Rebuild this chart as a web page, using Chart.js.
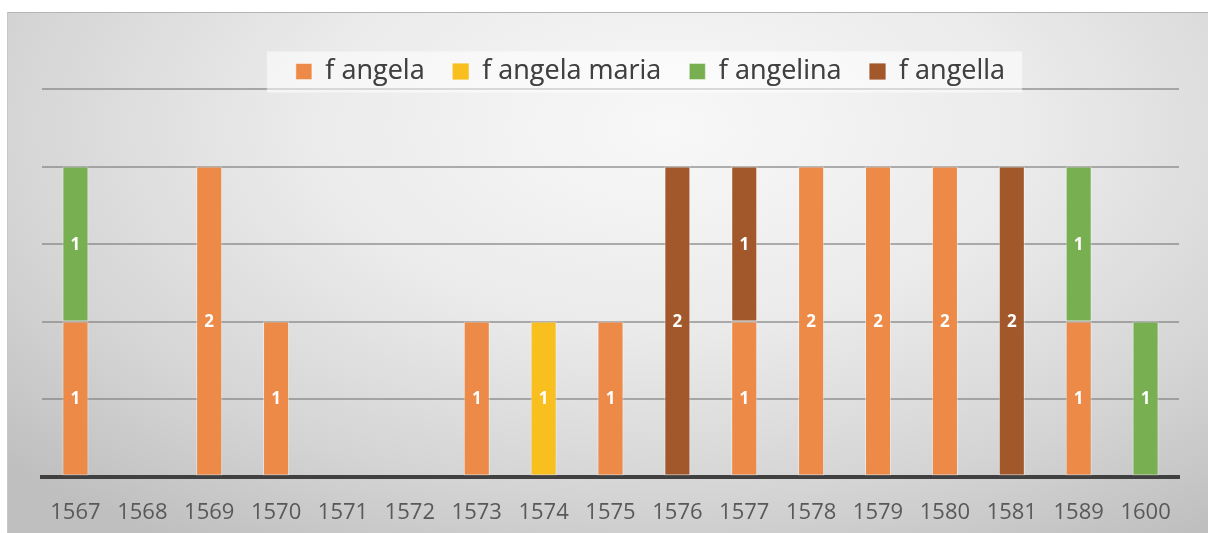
<!DOCTYPE html>
<html>
<head>
<meta charset="utf-8">
<script src="https://cdn.jsdelivr.net/npm/chart.js@4"></script>
<style>
  html, body { margin: 0; padding: 0; background: #fff; overflow: hidden; }
  #box {
    position: absolute; left: 7px; top: 12px; width: 1201px; height: 521px; overflow: hidden;
    border-top: 1px solid #b4b4b4; border-left: 1px solid #c8c8c8;
    background: radial-gradient(ellipse 75% 95% at 55% 22%, #f8f8f8 0%, #ebebeb 40%, #d4d4d4 75%, #bfbfbf 100%);
  }
</style>
</head>
<body>
<div id="box"><canvas id="chart" width="1200" height="544"></canvas></div>
<script>
// categories (years)
var years = ['1567', '1568', '1569', '1570', '1571', '1572', '1573', '1574', '1575',
             '1576', '1577', '1578', '1579', '1580', '1581', '1589', '1600'];

// series
var fAngela      = [1, 0, 2, 1, 0, 0, 1, 0, 1, 0, 1, 2, 2, 2, 0, 1, 0];
var fAngelaMaria = [0, 0, 0, 0, 0, 0, 0, 1, 0, 0, 0, 0, 0, 0, 0, 0, 0];
var fAngelina    = [1, 0, 0, 0, 0, 0, 0, 0, 0, 0, 0, 0, 0, 0, 0, 1, 1];
var fAngella     = [0, 0, 0, 0, 0, 0, 0, 0, 0, 2, 1, 0, 0, 0, 2, 0, 0];

var seriesNames  = ['f angela', 'f angela maria', 'f angelina', 'f angella'];
var seriesColors = ['#ED8A47', '#F9BF1E', '#78AF50', '#A2582A'];

// legend sits a bit right of centre in the original
var legendShift = {
  id: 'legendShift',
  afterLayout: function (chart) {
    var lg = chart.legend;
    if (!lg) return;
    lg.left += 40;
    lg.right += 40;
    lg.legendHitBoxes.forEach(function (hb) { hb.left += 40; });
  }
};

// legend background + redraw legend on top of it
var legendBg = {
  id: 'legendBg',
  beforeDatasetsDraw: function (chart) {
    var lg = chart.legend;
    if (!lg || !lg.legendHitBoxes.length) return;
    var hb = lg.legendHitBoxes;
    var left = hb[0].left - 29;
    var last = hb[hb.length - 1];
    var right = last.left + last.width + 17;
    var mid = hb[0].top + hb[0].height / 2;
    var ctx = chart.ctx;
    ctx.save();
    ctx.fillStyle = 'rgba(255,255,255,0.55)';
    ctx.fillRect(left, mid - 20, right - left, 41);
    ctx.restore();
    lg.draw();
  }
};

// white value labels in the middle of each segment
var barLabels = {
  id: 'barLabels',
  afterDatasetsDraw: function (chart) {
    var ctx = chart.ctx;
    ctx.save();
    ctx.font = 'bold 17px "Open Sans", sans-serif';
    ctx.fillStyle = '#ffffff';
    ctx.textAlign = 'center';
    ctx.textBaseline = 'middle';
    chart.data.datasets.forEach(function (ds, i) {
      var meta = chart.getDatasetMeta(i);
      meta.data.forEach(function (bar, j) {
        var v = ds.data[j];
        if (!v) return;
        ctx.fillText(String(v), bar.x, (bar.y + bar.base) / 2 + 1);
      });
    });
    ctx.restore();
  }
};

var datasets = [fAngela, fAngelaMaria, fAngelina, fAngella].map(function (d, i) {
  return {
    label: seriesNames[i],
    data: d,
    backgroundColor: seriesColors[i],
    borderColor: 'rgba(255,255,255,0.45)',
    borderWidth: function (c) { return c.raw ? 1 : 0; },
    borderSkipped: false,
    barPercentage: 0.39,
    categoryPercentage: 1
  };
});

new Chart(document.getElementById('chart'), {
  type: 'bar',
  data: { labels: years, datasets: datasets },
  options: {
    responsive: false,
    animation: false,
    layout: { padding: { top: 17, left: 34, right: 29, bottom: 8 } },
    plugins: {
      tooltip: { enabled: false },
      legend: {
        position: 'top',
        maxHeight: 59,
        labels: {
          boxWidth: 16,
          boxHeight: 16,
          padding: 28,
          color: '#404040',
          font: { family: '"Open Sans", sans-serif', size: 27 }
        }
      }
    },
    scales: {
      x: {
        stacked: true,
        grid: { display: false, drawTicks: false },
        border: { display: true, color: '#404040', width: 4 },
        ticks: {
          color: '#595959',
          padding: 23,
          maxRotation: 0,
          font: { family: '"Open Sans", sans-serif', size: 22 }
        }
      },
      y: {
        stacked: true,
        min: 0,
        max: 2.5,
        ticks: { display: false, stepSize: 0.5 },
        border: { display: false },
        grid: {
          drawTicks: false,
          lineWidth: 2,
          color: function (c) { return c.tick && c.tick.value === 0 ? 'rgba(0,0,0,0)' : 'rgba(125,125,125,0.6)'; }
        }
      }
    }
  },
  plugins: [legendShift, legendBg, barLabels]
});
</script>
</body>
</html>
